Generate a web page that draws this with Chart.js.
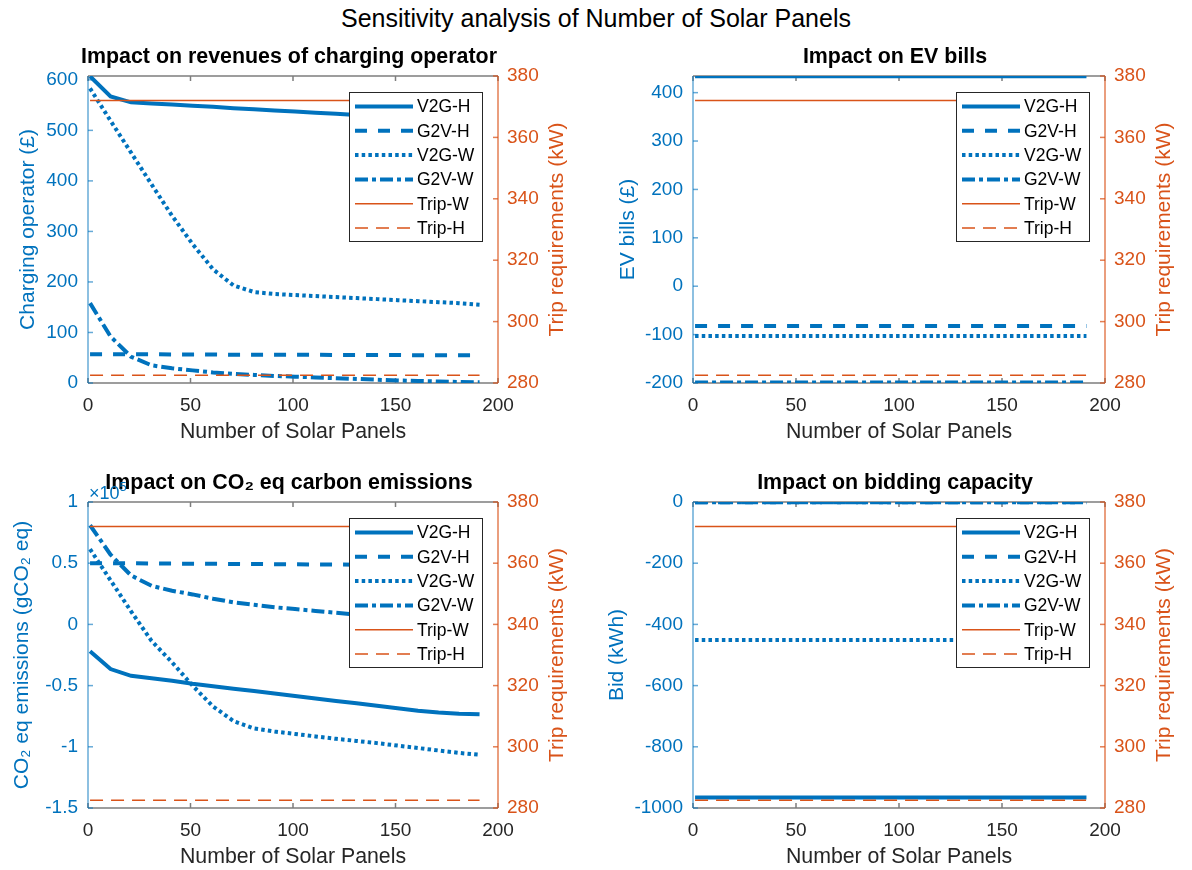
<!DOCTYPE html>
<html>
<head>
<meta charset="utf-8">
<script src="https://cdn.jsdelivr.net/npm/chart.js@4.4.0/dist/chart.umd.min.js"></script>
<style>
  body { margin: 0; background: #fff; width: 1192px; height: 870px; overflow: hidden; position: relative; font-family: "Liberation Sans", Arial, sans-serif; }
  canvas { position: absolute; }
  #suptitle { position: absolute; left: 0; top: 4px; width: 1192px; text-align: center; font-size: 25px; color: #000; }
</style>
</head>
<body>
<div id="suptitle">Sensitivity analysis of Number of Solar Panels</div>
<canvas id="revenueChart" width="578" height="407" style="left:0;top:40px"></canvas>
<canvas id="billsChart" width="580" height="407" style="left:605px;top:40px"></canvas>
<canvas id="co2Chart" width="578" height="406" style="left:0;top:466px"></canvas>
<canvas id="bidChart" width="580" height="406" style="left:605px;top:466px"></canvas>
<script>
// x values (number of solar panels)
const panels = [1, 11, 21, 31, 41, 51, 61, 71, 81, 91, 101, 111, 121, 131, 141, 151, 161, 171, 181, 191];
const seriesNames = ['V2G-H', 'G2V-H', 'V2G-W', 'G2V-W', 'Trip-W', 'Trip-H'];

// tick labels
const panelTicks = [0, 50, 100, 150, 200];
const tripTicks = [280, 300, 320, 340, 360, 380];
const revTicks = [0, 100, 200, 300, 400, 500, 600];
const billTicks = [-200, -100, 0, 100, 200, 300, 400];
const co2Ticks = [-1.5, -1, -0.5, 0, 0.5, 1];
const bidTicks = [-1000, -800, -600, -400, -200, 0];

// trip requirements (kW), right axis, same in all four panels
const tripW = [372, 372, 372, 372, 372, 372, 372, 372, 372, 372, 372, 372, 372, 372, 372, 372, 372, 372, 372, 372];
const tripH = [282.5, 282.5, 282.5, 282.5, 282.5, 282.5, 282.5, 282.5, 282.5, 282.5, 282.5, 282.5, 282.5, 282.5, 282.5, 282.5, 282.5, 282.5, 282.5, 282.5];

// revenues of charging operator (£)
const revV2GH = [607, 567, 555.5, 553, 551, 548.5, 546.5, 544, 542, 539.5, 537.5, 535, 533, 530.5, 528, 525.5, 523, 520.5, 518, 515];
const revG2VH = [57, 57, 57, 57, 56.5, 56.5, 56.5, 56, 56, 56, 56, 56, 55.5, 55.5, 55.5, 55.5, 55, 55, 55, 55];
const revV2GW = [583, 519, 456, 393, 331, 275, 225, 193, 180, 176, 174, 172, 170, 168, 166, 164, 162, 160, 158, 155];
const revG2VW = [158, 92, 52, 35, 29, 25, 21, 18, 16, 14, 12.5, 11, 9.5, 8, 6.5, 5, 4, 3, 2, 1.5];

// EV bills (£)
const billV2GH = [434, 434, 434, 434, 434, 434, 434, 434, 434, 434, 434, 434, 434, 434, 434, 434, 434, 434, 434, 434];
const billG2VH = [-82, -82, -82, -82, -82, -82, -82, -82, -82, -82, -82, -82, -82, -82, -82, -82, -82, -82, -82, -82];
const billV2GW = [-103, -103, -103, -103, -103, -103, -103, -103, -103, -103, -103, -103, -103, -103, -103, -103, -103, -103, -103, -103];
const billG2VW = [-199, -199, -199, -199, -199, -199, -199, -199, -199, -199, -199, -199, -199, -199, -199, -199, -199, -199, -199, -199];

// CO2 eq emissions (x10^5 gCO2 eq)
const co2V2GH = [-0.22, -0.365, -0.42, -0.44, -0.46, -0.485, -0.505, -0.525, -0.545, -0.565, -0.585, -0.605, -0.625, -0.645, -0.665, -0.685, -0.705, -0.72, -0.73, -0.735];
const co2G2VH = [0.5, 0.5, 0.5, 0.498, 0.497, 0.496, 0.495, 0.494, 0.493, 0.492, 0.491, 0.49, 0.489, 0.488, 0.487, 0.486, 0.485, 0.484, 0.483, 0.482];
const co2V2GW = [0.615, 0.36, 0.107, -0.135, -0.31, -0.5, -0.67, -0.79, -0.85, -0.875, -0.895, -0.915, -0.935, -0.952, -0.97, -0.99, -1.01, -1.03, -1.05, -1.065];
const co2G2VW = [0.81, 0.57, 0.4, 0.315, 0.275, 0.245, 0.21, 0.18, 0.16, 0.14, 0.125, 0.11, 0.095, 0.08, 0.07, 0.055, 0.045, 0.035, 0.025, 0.015];

// bidding capacity (kWh)
const bidV2GH = [-966, -966, -966, -966, -966, -966, -966, -966, -966, -966, -966, -966, -966, -966, -966, -966, -966, -966, -966, -966];
const bidG2VH = [-1, -1, -1, -1, -1, -1, -1, -1, -1, -1, -1, -1, -1, -1, -1, -1, -1, -1, -1, -1];
const bidV2GW = [-451, -451, -451, -451, -451, -451, -451, -451, -451, -451, -451, -451, -451, -451, -451, -451, -451, -451, -451, -451];
const bidG2VW = [-1, -1, -1, -1, -1, -1, -1, -1, -1, -1, -1, -1, -1, -1, -1, -1, -1, -1, -1, -1];

const BLUE = '#0072BD';
const ORANGE = '#D95319';
const DARK = '#262626';
const FONT = '"Liberation Sans", Arial, Helvetica, sans-serif';

const lineStyles = {
    'V2G-H': { color: BLUE, width: 4, dash: [] },
    'G2V-H': { color: BLUE, width: 4, dash: [12, 11] },
    'V2G-W': { color: BLUE, width: 4, dash: [3.5, 3.2] },
    'G2V-W': { color: BLUE, width: 4, dash: [13, 4, 4, 4] },
    'Trip-W': { color: ORANGE, width: 1.5, dash: [] },
    'Trip-H': { color: ORANGE, width: 1.5, dash: [13, 8] }
};

Chart.defaults.font.family = FONT;

function fmt(v) {
    return String(Math.round(v * 100) / 100);
}

function fixedTicks(values) {
    return s => { s.ticks = values.map(v => ({ value: v })); };
}

function strokeLine(ctx, x1, y1, x2, y2) {
    ctx.beginPath();
    ctx.moveTo(x1, y1);
    ctx.lineTo(x2, y2);
    ctx.stroke();
}

// MATLAB-like box, inward ticks, right label, exponent and legend
const matlabAxes = {
    id: 'matlabAxes',
    beforeDatasetsDraw(chart) {
        const { ctx, chartArea: a, scales } = chart;
        ctx.save();
        ctx.lineWidth = 1.5;
        ctx.strokeStyle = '#7d7d7d';
        strokeLine(ctx, a.left, a.top, a.right, a.top);
        strokeLine(ctx, a.left, a.bottom, a.right, a.bottom);
        scales.x.ticks.forEach(t => {
            const px = scales.x.getPixelForValue(t.value);
            strokeLine(ctx, px, a.bottom, px, a.bottom - 5);
            strokeLine(ctx, px, a.top, px, a.top + 5);
        });
        ctx.strokeStyle = 'rgba(0,114,189,0.6)';
        strokeLine(ctx, a.left, a.top, a.left, a.bottom);
        scales.y.ticks.forEach(t => {
            const py = scales.y.getPixelForValue(t.value);
            strokeLine(ctx, a.left, py, a.left + 5, py);
        });
        ctx.strokeStyle = 'rgba(217,83,25,0.75)';
        strokeLine(ctx, a.right, a.top, a.right, a.bottom);
        scales.y1.ticks.forEach(t => {
            const py = scales.y1.getPixelForValue(t.value);
            strokeLine(ctx, a.right, py, a.right - 5, py);
        });
        ctx.restore();
    },
    afterDatasetsDraw(chart, args, opts) {
        const { ctx, chartArea: a } = chart;
        const w = 133, h = 149, rowH = 24.3;
        const lx = a.right - 16 - w, ly = a.top + 16;
        ctx.save();
        ctx.fillStyle = '#fff';
        ctx.fillRect(lx, ly, w, h);
        ctx.lineWidth = 1;
        ctx.strokeStyle = DARK;
        ctx.strokeRect(lx + 0.5, ly + 0.5, w, h);
        ctx.font = '17.5px ' + FONT;
        ctx.textBaseline = 'middle';
        ctx.textAlign = 'left';
        seriesNames.forEach((name, i) => {
            const st = lineStyles[name];
            const cy = ly + 14.5 + i * rowH;
            ctx.strokeStyle = st.color;
            ctx.lineWidth = st.width;
            ctx.lineCap = 'butt';
            ctx.setLineDash(st.dash);
            strokeLine(ctx, lx + 6, cy, lx + 64, cy);
            ctx.setLineDash([]);
            ctx.fillStyle = '#000';
            ctx.fillText(name, lx + 68, cy + 1);
        });
        ctx.restore();
    },
    afterDraw(chart, args, opts) {
        const { ctx, chartArea: a } = chart;
        ctx.save();
        ctx.fillStyle = ORANGE;
        ctx.font = '21px ' + FONT;
        ctx.textAlign = 'center';
        ctx.textBaseline = 'middle';
        ctx.translate(a.right + 59, (a.top + a.bottom) / 2);
        ctx.rotate(-Math.PI / 2);
        ctx.fillText(opts.rightTitle, 0, 0);
        ctx.restore();
        if (opts.exponent) {
            ctx.save();
            ctx.fillStyle = BLUE;
            ctx.textBaseline = 'alphabetic';
            ctx.font = '18px ' + FONT;
            ctx.fillText('\u00d710', a.left + 1, a.top - 3);
            const wx = ctx.measureText('\u00d710').width;
            ctx.font = '13px ' + FONT;
            ctx.fillText(opts.exponent, a.left + 1 + wx, a.top - 11);
            ctx.restore();
        }
    }
};

function makeDataset(name, values, axis, order) {
    const st = lineStyles[name];
    return {
        label: name,
        data: panels.map((p, i) => ({ x: p, y: values[i] })),
        yAxisID: axis,
        borderColor: st.color,
        borderWidth: st.width,
        borderDash: st.dash,
        borderCapStyle: 'butt',
        pointRadius: 0,
        tension: 0,
        fill: false,
        order: order
    };
}

function drawPanel(canvasId, title, yLabel, yLabelPad, yMin, yMax, yTicks, series, exponent) {
    const ctx = document.getElementById(canvasId);
    new Chart(ctx, {
        type: 'line',
        data: {
            datasets: [
                makeDataset('V2G-H', series[0], 'y', 6),
                makeDataset('G2V-H', series[1], 'y', 5),
                makeDataset('V2G-W', series[2], 'y', 4),
                makeDataset('G2V-W', series[3], 'y', 3),
                makeDataset('Trip-W', tripW, 'y1', 2),
                makeDataset('Trip-H', tripH, 'y1', 1)
            ]
        },
        options: {
            responsive: false,
            animation: false,
            layout: { padding: 0 },
            plugins: {
                legend: { display: false },
                tooltip: { enabled: false },
                title: {
                    display: true,
                    text: title,
                    color: '#000',
                    font: { size: 21.4, weight: 'bold', lineHeight: '24px' },
                    padding: { top: 5, bottom: 7 }
                },
                matlabAxes: { rightTitle: 'Trip requirements (kW)', exponent: exponent }
            },
            scales: {
                x: {
                    type: 'linear',
                    min: 0,
                    max: 200,
                    afterFit: s => { s.height = 64; },
                    afterBuildTicks: fixedTicks(panelTicks),
                    grid: { display: false, drawTicks: false },
                    border: { display: false },
                    ticks: { color: DARK, font: { size: 19 }, padding: 11, maxRotation: 0, autoSkip: false, callback: v => fmt(v) },
                    title: { display: true, text: 'Number of Solar Panels', color: DARK, font: { size: 21.3, lineHeight: '24px' }, padding: { top: 0, bottom: 3 } }
                },
                y: {
                    type: 'linear',
                    position: 'left',
                    min: yMin,
                    max: yMax,
                    afterFit: s => { s.width = 88; },
                    afterBuildTicks: fixedTicks(yTicks),
                    grid: { display: false, drawTicks: false },
                    border: { display: false },
                    ticks: { autoSkip: false, color: BLUE, font: { size: 19 }, padding: 10, callback: v => fmt(v) },
                    title: { display: true, text: yLabel, color: BLUE, font: { size: 21, lineHeight: '24px' }, padding: { top: yLabelPad, bottom: 0 } }
                },
                y1: {
                    type: 'linear',
                    position: 'right',
                    min: 280,
                    max: 380,
                    afterFit: s => { s.width = 80; },
                    afterBuildTicks: fixedTicks(tripTicks),
                    grid: { display: false, drawTicks: false },
                    border: { display: false },
                    ticks: { autoSkip: false, color: ORANGE, font: { size: 19 }, padding: 9, callback: v => fmt(v) }
                }
            }
        },
        plugins: [matlabAxes]
    });
}

drawPanel('revenueChart', 'Impact on revenues of charging operator', 'Charging operator (\u00a3)', 16,
    0, 607.6, revTicks, [revV2GH, revG2VH, revV2GW, revG2VW], null);
drawPanel('billsChart', 'Impact on EV bills', 'EV bills (\u00a3)', 11,
    -200, 434.4, billTicks, [billV2GH, billG2VH, billV2GW, billG2VW], null);
drawPanel('co2Chart', 'Impact on CO\u2082 eq carbon emissions', 'CO\u2082 eq emissions (gCO\u2082 eq)', 10,
    -1.5, 1, co2Ticks, [co2V2GH, co2G2VH, co2V2GW, co2G2VW], '5');
drawPanel('bidChart', 'Impact on bidding capacity', 'Bid (kWh)', 0,
    -1000, 0, bidTicks, [bidV2GH, bidG2VH, bidV2GW, bidG2VW], null);
</script>
</body>
</html>
